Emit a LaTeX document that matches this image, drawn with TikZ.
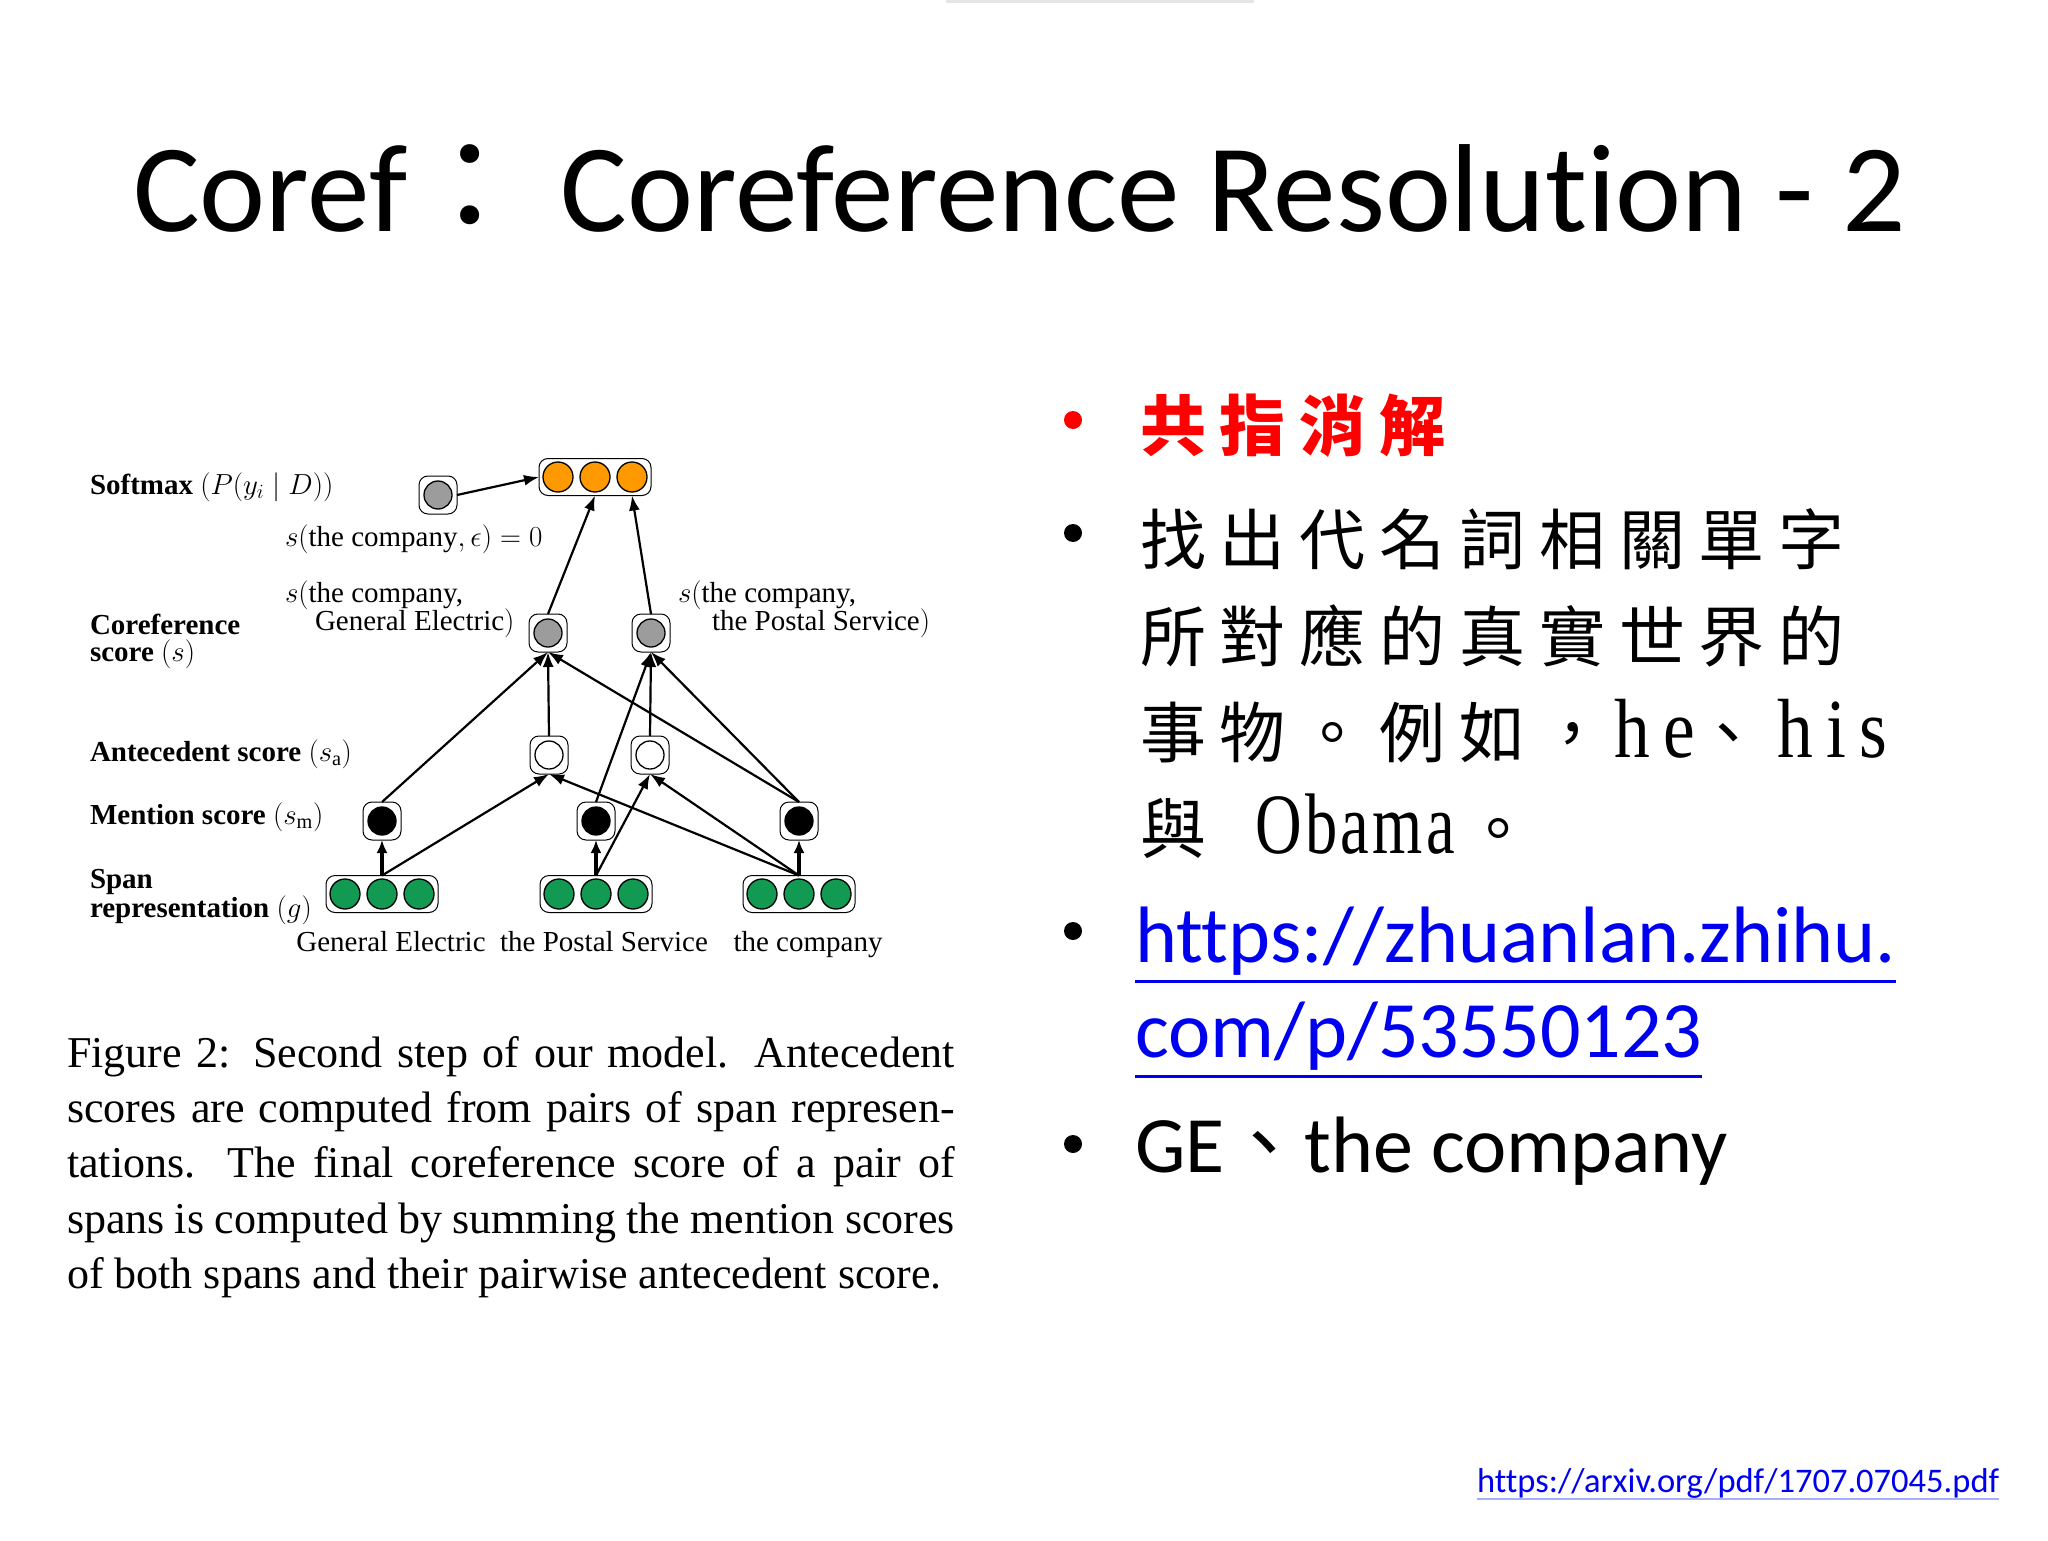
\RequirePackage{fix-cm}
\documentclass[tikz,border=0pt]{standalone}
\usepackage{graphicx}
\usepackage{fontspec}
\setmainfont{Liberation Serif}
\newfontfamily\carlito[Ligatures={NoCommon}]{Carlito}
\newfontfamily\cjk{Noto Sans CJK TC}
\newfontfamily\cjksp[LetterSpace=21]{Noto Sans CJK TC}
\newfontfamily\latsp[LetterSpace=16,FakeStretch=0.85]{Liberation Serif}
\newfontfamily\latob[LetterSpace=4,FakeStretch=0.75]{Liberation Serif}
\usetikzlibrary{arrows.meta,calc}
\definecolor{orng}{HTML}{FF9900}
\definecolor{grn}{HTML}{129A52}
\definecolor{gry}{HTML}{9C9C9C}
\definecolor{lnk}{HTML}{0000F0}
\definecolor{ulink}{HTML}{A8AEFF}
\newcommand\figfs{\fontsize{29}{26}\selectfont}
\begin{document}
\begin{tikzpicture}[x=1pt,y=-1pt,
  every node/.style={inner sep=0pt, outer sep=0pt},
  unit/.style={draw=black, line width=1pt, fill=white, rounded corners=9pt,
    minimum width=38pt, minimum height=38pt,
    path picture={\draw[line width=1.3pt, fill=#1] (path picture bounding box.center) circle[radius=14pt];}},
  vec/.style={draw=black, line width=1pt, fill=white, rounded corners=9pt,
    minimum width=112pt, minimum height=37pt,
    path picture={\foreach \k in {-37,0,37}{\draw[line width=1.3pt, fill=#1] ([xshift=\k pt]path picture bounding box.center) circle[radius=15pt];}}},
  conn/.style={line width=2.2pt, -{Latex[length=15pt,width=11pt]}},
  tconn/.style={line width=3.2pt, -{Latex[length=13pt,width=11pt]}},
  lbl/.style={anchor=base west, font=\figfs},
  cjkline/.style={anchor=base west, font=\fontsize{66}{70}\selectfont\cjksp},
  bul/.style={circle, minimum size=18pt, fill=#1}
]
\useasboundingbox (0,0) rectangle (2048,1541);
\fill[white] (0,0) rectangle (2048,1541);
\fill[gray!20] (946,0) rectangle (1254,3);

% title
\node[anchor=base west] (title) at (133,232) {\fontsize{125.2}{130}\carlito Coref{\cjk ：} Coreference Resolution - 2};

% ---- diagram nodes
\node[unit=gry] (sm) at (438,495) {};
\node[vec=orng] (o) at (595,477) {};
\node[unit=gry] (c1) at (548,633) {};
\node[unit=gry] (c2) at (651,633) {};
\node[unit=white] (a1) at (549,755) {};
\node[unit=white] (a2) at (650,755) {};
\node[unit=black] (m1) at (382,821) {};
\node[unit=black] (m2) at (596,821) {};
\node[unit=black] (m3) at (799,821) {};
\node[vec=grn] (g1) at (382,894) {};
\node[vec=grn] (g2) at (596,894) {};
\node[vec=grn] (g3) at (799,894) {};
\coordinate (o3) at ($(o.south)+(37,0)$);

% ---- connectors
\draw[conn] (sm.east) -- (o.west);
\draw[conn] (c1.north) -- (o.south);
\draw[conn] (c2.north) -- (o3);
\foreach \s/\t in {a1/c1, m1/c1, m3/c1, a2/c2, m2/c2, m3/c2, g1/a1, g3/a1, g2/a2, g3/a2}
  \draw[conn] (\s.north) -- (\t.south);
\foreach \i in {1,2,3}
  \draw[tconn] (g\i.north) -- (m\i.south);

% ---- diagram labels
\node[lbl] (lsm) at (90,494) {\textbf{Softmax} $(P(y_i\mid D))$};
\node[lbl] (leps) at (285,546) {$s($the company$,\epsilon)=0$};
\node[lbl] (lge1) at (285,602) {$s($the company,};
\node[lbl] (lge2) at (315,630) {General Electric$)$};
\node[lbl] (lps1) at (678,602) {$s($the company,};
\node[lbl] (lps2) at (712,630) {the Postal Service$)$};
\node[lbl] (lcor1) at (90,634) {\textbf{Coreference}};
\node[lbl] (lcor2) at (90,661) {\textbf{score} $(s)$};
\node[lbl] (lant) at (90,761) {\textbf{Antecedent score} $(s_{\mathrm{a}})$};
\node[lbl] (lmen) at (90,824) {\textbf{Mention score} $(s_{\mathrm{m}})$};
\node[lbl] (lsp1) at (90,888) {\textbf{Span}};
\node[lbl] (lsp2) at (90,917) {\textbf{representation} $(g)$};
\node[anchor=base, font=\figfs] (w1) at (391,951) {General Electric};
\node[anchor=base, font=\figfs] (w2) at (604,951) {the Postal Service};
\node[anchor=base, font=\figfs] (w3) at (808,951) {the company};

% ---- caption
\node[anchor=base west] (cap) at (67,1067) {\parbox[t]{888pt}{\fontsize{44}{55.4}\selectfont
\hbox to 888pt{Figure 2: Second step of our model. Antecedent}%
\hbox to 888pt{scores are computed from pairs of span represen-}%
\hbox to 888pt{tations. The final coreference score of a pair of}%
\hbox to 888pt{spans is computed by summing the mention scores}%
\hbox{of both spans and their pairwise antecedent score.}}};

% ---- right column
\node[bul=red] (b1) at (1073,420) {};
\node[bul=black] (b2) at (1073,533) {};
\node[bul=black] (b3) at (1073,931) {};
\node[bul=black] (b4) at (1073,1144) {};

\node[cjkline, text=red] (t1) at (1140,450) {\bfseries 共指消解};
\node[cjkline] (t2) at (1140,564) {找出代名詞相關單字};
\node[cjkline] (t3) at (1140,661) {所對應的真實世界的};
\node[cjkline] (t4) at (1140,757) {事物。例如，\hspace{9pt}{\fontsize{84}{90}\latsp he}、\hspace{16pt}{\fontsize{84}{90}\latsp his}};
\node[cjkline] (t5) at (1140,853) {與\hspace{49pt}{\fontsize{86}{90}\latob Obama}{\hspace{10pt}。}};

\node[anchor=base west, text=lnk] (u1) at (1135,962) {\fontsize{80}{90}\carlito https://zhuanlan.zhihu.};
\node[anchor=base west, text=lnk] (u2) at (1135,1057) {\fontsize{80}{90}\carlito com/p/53550123};
\draw[lnk, line width=3pt] ([yshift=-19pt]u1.base west) -- ([yshift=-19pt]u1.base east);
\draw[lnk, line width=3pt] ([yshift=-19pt]u2.base west) -- ([yshift=-19pt]u2.base east);

\node[anchor=base west] (ge) at (1135,1172) {\fontsize{80}{90}\carlito GE{\cjk 、}the company};

\node[anchor=base west, text=lnk] (ft) at (1477,1492) {\fontsize{34.5}{40}\carlito https://arxiv.org/pdf/1707.07045.pdf};
\draw[ulink, line width=1.8pt] ([yshift=-7pt]ft.base west) -- ([yshift=-7pt]ft.base east);
\end{tikzpicture}
\end{document}
